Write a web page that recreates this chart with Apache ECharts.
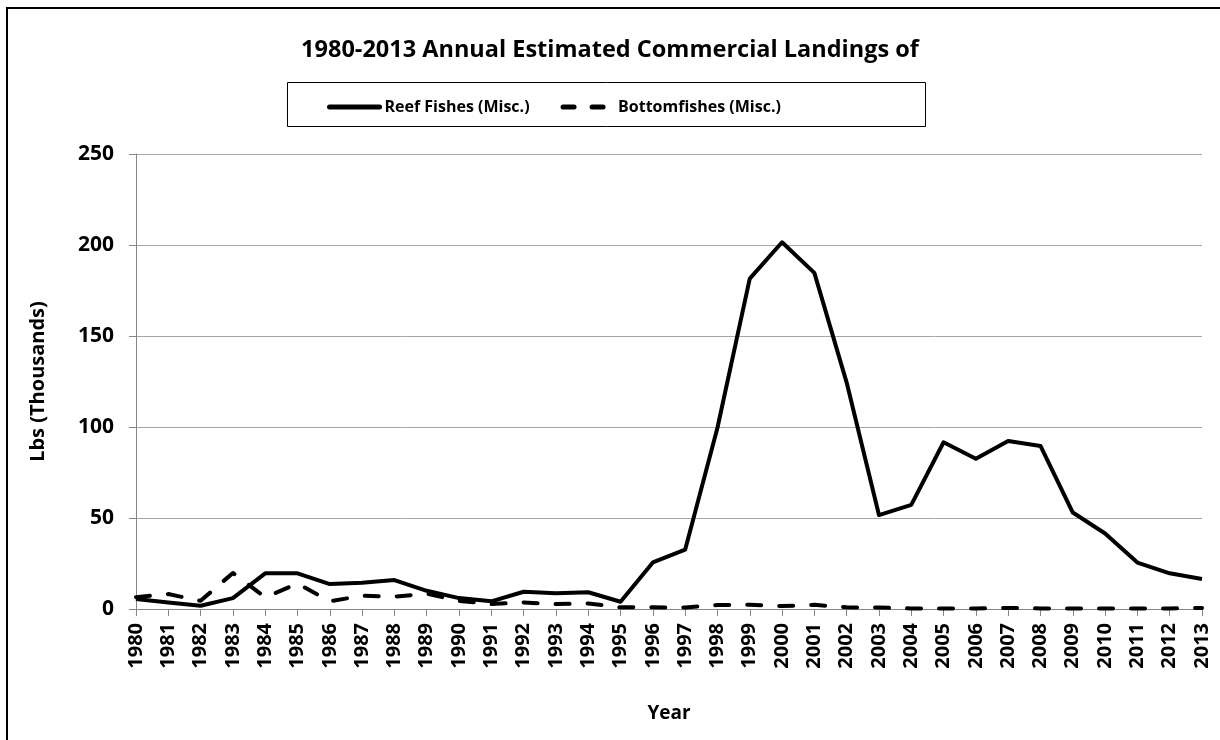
<!DOCTYPE html>
<html>
<head>
<meta charset="utf-8">
<script src="https://cdn.jsdelivr.net/npm/echarts@6/dist/echarts.min.js"></script>
<style>
html,body{margin:0;padding:0;background:#fff;}
#chart{width:1220px;height:740px;}
</style>
</head>
<body>
<div id="chart"></div>
<script>
const years = ['1980','1981','1982','1983','1984','1985','1986','1987','1988','1989','1990','1991','1992','1993','1994','1995','1996','1997','1998','1999','2000','2001','2002','2003','2004','2005','2006','2007','2008','2009','2010','2011','2012','2013'];
const reefFishes = [5.5, 3.6, 1.8, 6, 19.6, 19.6, 13.7, 14.4, 15.9, 10, 6, 4.2, 9.5, 8.6, 9.2, 4, 25.6, 32.6, 99.6, 181.5, 201.5, 184.7, 124.4, 51.6, 57.2, 91.6, 82.6, 92.3, 89.6, 53, 41.5, 25.5, 19.6, 16.5];
const bottomfishes = [6.5, 8.2, 4.5, 19.8, 6.4, 14, 4.2, 7.3, 6.8, 8.4, 4.5, 2.7, 3.6, 2.7, 3, 0.9, 0.9, 0.8, 2.2, 2.3, 1.6, 2.3, 0.9, 0.8, 0.3, 0.3, 0.3, 0.6, 0.3, 0.3, 0.3, 0.3, 0.3, 0.6];
const yTicks = [0, 50, 100, 150, 200, 250];

const FONT = '"Open Sans", "Liberation Sans", sans-serif';
const chart = echarts.init(document.getElementById('chart'), null, {renderer: 'canvas'});
chart.setOption({
  animation: false,
  backgroundColor: '#fff',
  title: {
    text: '1980-2013 Annual Estimated Commercial Landings of',
    left: 'center',
    top: 33,
    textStyle: {fontFamily: FONT, fontWeight: 'bold', fontSize: 23.5, color: '#000'}
  },
  graphic: [
    {type: 'rect', shape: {x: 7, y: 8, width: 1400, height: 900}, style: {fill: 'none', stroke: '#000', lineWidth: 2}, z: 100},
    {type: 'rect', shape: {x: 287.5, y: 82.5, width: 638, height: 44}, style: {fill: 'none', stroke: '#000', lineWidth: 1}, z: 100}
  ],
  legend: {
    left: 322,
    top: 94,
    itemWidth: 50,
    itemHeight: 14,
    itemGap: 31,
    itemStyle: {opacity: 0},
    lineStyle: {width: 5, color: '#000'},
    textStyle: {fontFamily: FONT, fontWeight: 'bold', fontSize: 16, color: '#000'},
    data: [
      {name: 'Reef Fishes (Misc.)', lineStyle: {width: 5, type: 'solid', cap: 'round'}},
      {name: 'Bottomfishes (Misc.)', lineStyle: {width: 5, type: [11, 18], cap: 'round'}}
    ]
  },
  grid: {left: 136, right: 18, top: 154, bottom: 131, containLabel: false},
  xAxis: {
    type: 'category',
    data: years,
    boundaryGap: false,
    name: 'Year',
    nameLocation: 'middle',
    nameGap: 95,
    nameTextStyle: {fontFamily: FONT, fontWeight: 'bold', fontSize: 19, color: '#000'},
    axisLine: {lineStyle: {color: '#868686', width: 1}},
    axisTick: {show: true, length: 7, alignWithLabel: true, lineStyle: {color: '#868686'}},
    axisLabel: {rotate: 90, margin: 14, interval: 0, fontFamily: FONT, fontWeight: 'bold', fontSize: 20, color: '#000'},
    splitLine: {show: false}
  },
  yAxis: {
    type: 'value',
    min: yTicks[0],
    max: yTicks[yTicks.length - 1],
    interval: 50,
    name: 'Lbs (Thousands)',
    nameLocation: 'middle',
    nameGap: 88,
    nameTextStyle: {fontFamily: FONT, fontWeight: 'bold', fontSize: 20, color: '#000'},
    axisLine: {show: true, lineStyle: {color: '#868686', width: 1}},
    axisTick: {show: true, length: 7, lineStyle: {color: '#868686'}},
    axisLabel: {margin: 22, fontFamily: FONT, fontWeight: 'bold', fontSize: 21, color: '#000'},
    splitLine: {show: true, lineStyle: {color: '#A6A6A6', width: 1}}
  },
  series: [
    {
      name: 'Reef Fishes (Misc.)',
      type: 'line',
      data: reefFishes,
      symbol: 'none',
      lineStyle: {color: '#000', width: 4, join: 'round'},
      itemStyle: {color: '#000'},
      z: 3
    },
    {
      name: 'Bottomfishes (Misc.)',
      type: 'line',
      data: bottomfishes,
      symbol: 'none',
      lineStyle: {color: '#000', width: 4, type: [14, 18], cap: 'round', join: 'round'},
      itemStyle: {color: '#000'},
      z: 2
    }
  ]
});
</script>
</body>
</html>
